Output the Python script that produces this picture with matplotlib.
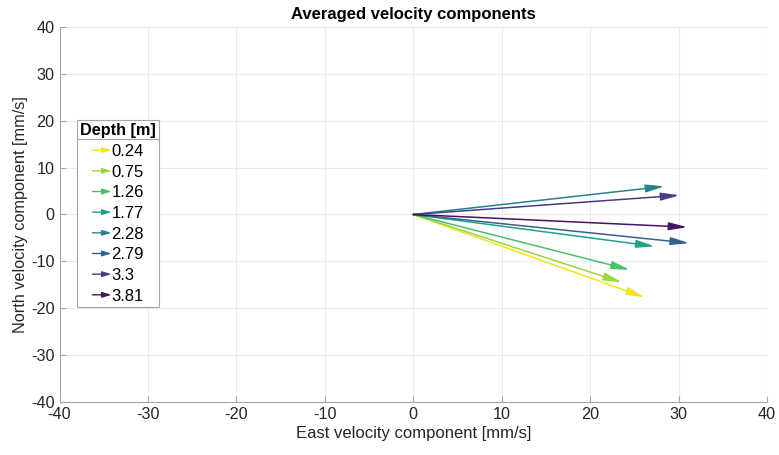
import numpy as np
import matplotlib
matplotlib.use('Agg')
import matplotlib.pyplot as plt
from matplotlib.patches import FancyArrowPatch
from matplotlib.legend_handler import HandlerPatch
from matplotlib.lines import Line2D

# Данные
depths = ['0.24', '0.75', '1.26', '1.77', '2.28', '2.79', '3.3', '3.81']
east = [26.2, 23.6, 24.5, 27.3, 28.4, 31.2, 30.1, 31.0]
north = [-17.7, -14.5, -11.8, -6.8, 6.0, -6.1, 4.1, -2.7]

colors = plt.cm.viridis(np.linspace(0.98, 0.05, len(depths)))

plt.rcParams['font.family'] = ['Liberation Sans', 'DejaVu Sans']
plt.rcParams['axes.unicode_minus'] = False

HEAD = '-|>,head_length=0.85,head_width=0.18'


class HandlerArrow(HandlerPatch):
    def create_artists(self, legend, orig_handle, xdescent, ydescent,
                       width, height, fontsize, trans):
        y = height / 2 - ydescent
        p = FancyArrowPatch((-xdescent, y), (width - xdescent, y),
                            arrowstyle='-|>,head_length=0.6,head_width=0.18',
                            mutation_scale=9, shrinkA=0, shrinkB=0,
                            color=orig_handle.get_edgecolor(), lw=1.0)
        p.set_transform(trans)
        return [p]


fig = plt.figure(figsize=(7.79, 4.55), dpi=100)
ax = fig.add_axes([0.0764, 0.1165, 0.9082, 0.8242])

handles = []
for u, v, c, d in zip(east, north, colors, depths):
    ax.annotate('', xy=(u, v), xytext=(0, 0),
                arrowprops=dict(arrowstyle=HEAD, color=c, lw=1.1,
                                mutation_scale=13, shrinkA=0, shrinkB=0))
    handles.append(FancyArrowPatch((0, 0), (1, 1), color=c, label=d))

ax.set_xlim(-40, 40)
ax.set_ylim(-40, 40)
ax.set_xticks(np.arange(-40, 41, 10))
ax.set_yticks(np.arange(-40, 41, 10))
ax.grid(True, color='#ebebeb', lw=0.8)
ax.set_axisbelow(True)
for s in ['top', 'right']:
    ax.spines[s].set_visible(False)
for s in ['left', 'bottom']:
    ax.spines[s].set_color('#a6a6a6')
ax.tick_params(direction='in', length=4, colors='#a6a6a6', labelcolor='#262626',
               labelsize=11.7)

ax.set_title('Averaged velocity components', fontsize=12, fontweight='bold', pad=6)
ax.set_xlabel('East velocity component [mm/s]', fontsize=12, color='#262626', labelpad=3)
ax.set_ylabel('North velocity component [mm/s]', fontsize=11.7, color='#262626', labelpad=2)

leg = ax.legend(handles=handles, handler_map={FancyArrowPatch: HandlerArrow()},
                title='Depth [m]', loc='upper left', bbox_to_anchor=(0.0247, 0.752),
                fontsize=12, handlelength=1.15, handletextpad=0.0,
                borderaxespad=0, labelspacing=0.34, fancybox=False,
                framealpha=1, edgecolor='#a6a6a6', borderpad=0.2)
leg.get_title().set_fontweight('bold')
leg.get_title().set_fontsize(11.7)
leg.get_frame().set_linewidth(0.8)

# линия под заголовком легенды
fig.canvas.draw()
fb = leg.get_frame().get_window_extent()
tb = leg.get_title().get_window_extent()
ysep = tb.y0 - 1
inv = fig.transFigure.inverted()
(x0, y0), (x1, _) = inv.transform([(fb.x0, ysep), (fb.x1, ysep)])
fig.add_artist(Line2D([x0, x1], [y0, y0], color='#a6a6a6', lw=0.8, zorder=10))

plt.savefig('out.png', dpi=100)
